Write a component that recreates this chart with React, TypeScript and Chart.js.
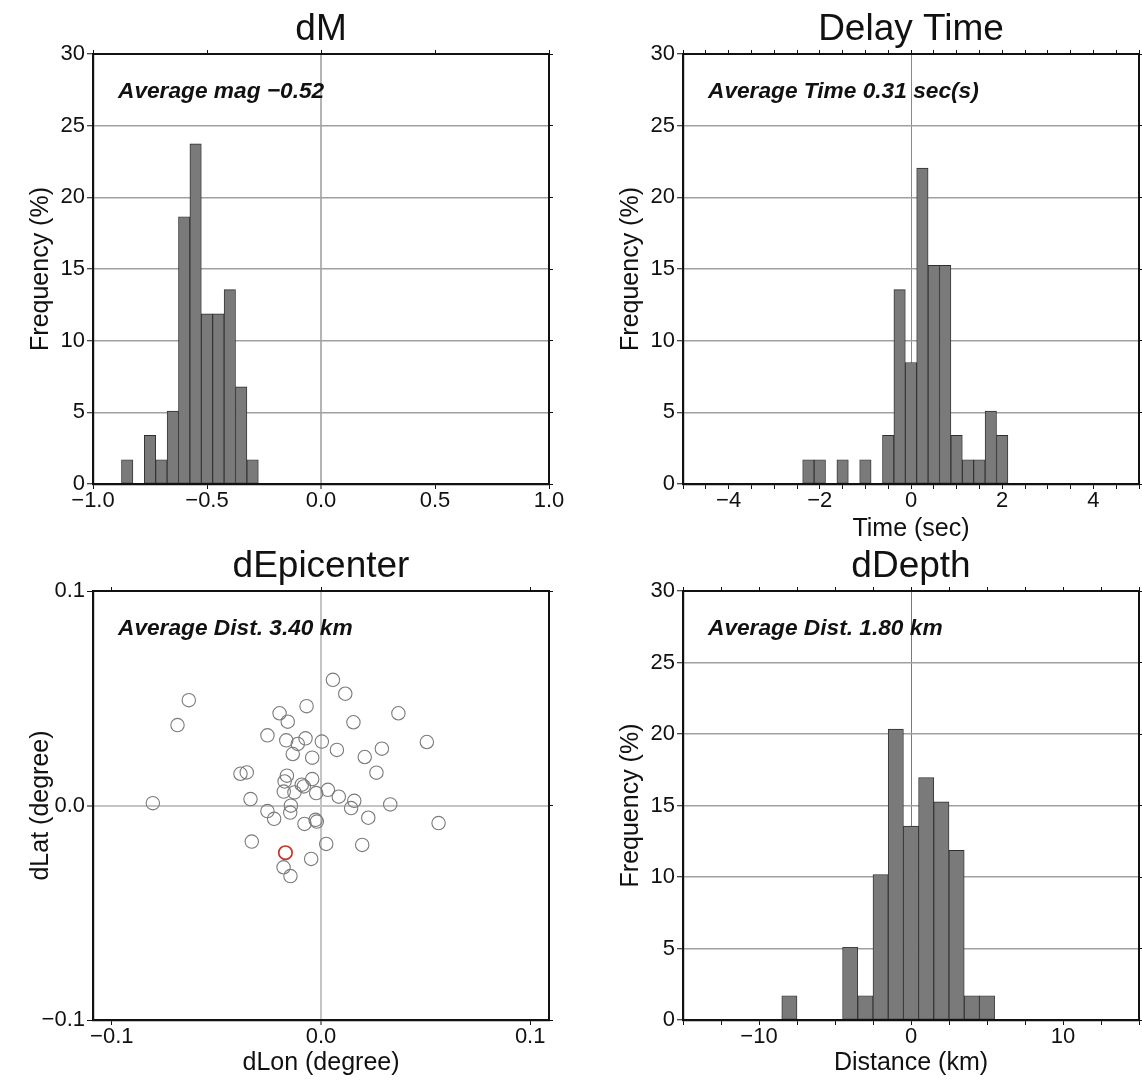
import React, { useEffect, useRef } from 'react';
import { Chart, registerables } from 'chart.js';

Chart.register(...registerables);

const FONT = '"Liberation Sans", Arial, Helvetica, sans-serif';

// ---------------- Data ----------------
const freqTitle = 'Frequency (%)';
const freqTickMarks = [0, 5, 10, 15, 20, 25, 30];
const freqTickLabels = ['0', '5', '10', '15', '20', '25', '30'];

// dM
const dmTitle = 'dM';
const dmNote = 'Average mag −0.52';
const dmBinCenters = [-0.85, -0.8, -0.75, -0.7, -0.65, -0.6, -0.55, -0.5, -0.45, -0.4, -0.35, -0.3];
const dmCounts = [1, 0, 2, 1, 3, 11, 14, 7, 7, 8, 4, 1];
const dmTickMarks = [-1, -0.5, 0, 0.5, 1];
const dmTickLabels = ['−1.0', '−0.5', '0.0', '0.5', '1.0'];

// Delay Time
const delayTitle = 'Delay Time';
const delayNote = 'Average Time 0.31 sec(s)';
const delayXTitle = 'Time (sec)';
const delayBinCenters = [-2.25, -2, -1.75, -1.5, -1.25, -1, -0.75, -0.5, -0.25, 0, 0.25, 0.5, 0.75, 1, 1.25, 1.5, 1.75, 2];
const delayCounts = [1, 1, 0, 1, 0, 1, 0, 2, 8, 5, 13, 9, 9, 2, 1, 1, 3, 2];
const delayTickMarks = [-5, -4.5, -4, -3.5, -3, -2.5, -2, -1.5, -1, -0.5, 0, 0.5, 1, 1.5, 2, 2.5, 3, 3.5, 4, 4.5, 5];
const delayLabelValues = [-4, -2, 0, 2, 4];
const delayTickLabels = ['−4', '−2', '0', '2', '4'];

// dEpicenter
const epiTitle = 'dEpicenter';
const epiNote = 'Average Dist. 3.40 km';
const epiXTitle = 'dLon (degree)';
const epiYTitle = 'dLat (degree)';
const epiLon = [-0.0632, -0.0686, 0.0057, 0.0116, -0.0069, -0.0198, -0.0159, 0.037, 0.0155, -0.0256, -0.0166, -0.0074, -0.0111, 0.0004, 0.0076, -0.0135, -0.0042, 0.0291, 0.0209, 0.0506, 0.0265, -0.0385, -0.0355, -0.0163, -0.0174, -0.0042, -0.0092, -0.0082, -0.0178, -0.0127, -0.0023, 0.0033, 0.0085, -0.0337, 0.0159, 0.0144, 0.0331, -0.0144, -0.0256, -0.0224, -0.0147, -0.0079, -0.0026, -0.002, 0.0226, 0.0562, -0.0804, -0.0331, -0.0179, -0.0146, -0.0047, 0.0025, 0.0197];
const epiLat = [0.0491, 0.0375, 0.0586, 0.0521, 0.0463, 0.043, 0.0391, 0.043, 0.0388, 0.0327, 0.0304, 0.0313, 0.0287, 0.0298, 0.0259, 0.024, 0.0223, 0.0265, 0.0226, 0.0296, 0.0153, 0.0148, 0.0154, 0.0139, 0.0112, 0.0123, 0.0097, 0.0089, 0.0065, 0.0061, 0.0058, 0.0073, 0.0041, 0.003, 0.0022, -0.0012, 0.0005, -0.0001, -0.0026, -0.0062, -0.0033, -0.0086, -0.0067, -0.0075, -0.0057, -0.0082, 0.0011, -0.0168, -0.0288, -0.0329, -0.0249, -0.0179, -0.0184];
const epiHighlightLon = [-0.017];
const epiHighlightLat = [-0.022];
const epiXRange = [-0.109, 0.109];
const epiYRange = [-0.1, 0.1];
const epiTickMarks = [-0.1, 0, 0.1];
const epiTickLabels = ['−0.1', '0.0', '0.1'];

// dDepth
const depthTitle = 'dDepth';
const depthNote = 'Average Dist. 1.80 km';
const depthXTitle = 'Distance (km)';
const depthBinCenters = [-8, -7, -6, -5, -4, -3, -2, -1, 0, 1, 2, 3, 4, 5];
const depthCounts = [1, 0, 0, 0, 3, 1, 6, 12, 8, 10, 9, 7, 1, 1];
const depthTickMarks = [-15, -12.5, -10, -7.5, -5, -2.5, 0, 2.5, 5, 7.5, 10, 12.5, 15];
const depthLabelValues = [-10, 0, 10];
const depthTickLabels = ['−10', '0', '10'];

// ---------------- Styling / layout ----------------
const INK = '#111111';
const CLEAR = 'rgba(0,0,0,0)';
const CANVAS_W = 642;
const CANVAS_H = 544;
const AXIS_W = 93;
const PLOT_TOP = 54;
const TITLE_PAD_TOP = 11.5;
const TITLE_SIZE = 37;
const TICK_FONT = { family: FONT, size: 22, lineHeight: 1 };
const AXIS_FONT = { family: FONT, size: 25, lineHeight: 1 };

const near = (a: number, b: number) => Math.abs(a - b) < 1e-9;

function labeler(vals: number[], texts: string[]) {
  return (value: number) => {
    const i = vals.findIndex((v) => near(v, value));
    return i >= 0 ? texts[i] : '';
  };
}

function fixTicks(vals: number[]) {
  return (scale: any) => {
    scale.ticks = vals.map((v) => ({ value: v }));
  };
}

function notePlugin(text: string) {
  return {
    id: 'note',
    afterDraw(chart: any) {
      const { ctx, chartArea } = chart;
      ctx.save();
      ctx.font = `italic bold 22.7px ${FONT}`;
      ctx.fillStyle = INK;
      ctx.textBaseline = 'alphabetic';
      ctx.textAlign = 'left';
      ctx.fillText(text, chartArea.left + 25, chartArea.top + 44);
      ctx.restore();
    },
  };
}

interface AxisSpec {
  min: number;
  max: number;
  marks: number[];
  labelVals: number[];
  labels: string[];
  title?: string;
}

function buildOptions(o: {
  title: string;
  x: AxisSpec;
  y: AxisSpec;
  xHeight: number;
  xTitlePad: number;
  zeroX?: [string, number];
  zeroY?: [string, number];
  hGrid?: [string, number];
}) {
  const isZero = (c: any) => c && c.tick && near(c.tick.value, 0);
  const topH = PLOT_TOP - (TITLE_PAD_TOP + TITLE_SIZE);
  return {
    responsive: false,
    maintainAspectRatio: false,
    animation: false,
    events: [],
    layout: { padding: 0 },
    plugins: {
      legend: { display: false },
      tooltip: { enabled: false },
      title: {
        display: true,
        text: o.title,
        color: INK,
        font: { family: FONT, size: TITLE_SIZE, weight: 'normal', lineHeight: 1 },
        padding: { top: TITLE_PAD_TOP, bottom: 0 },
      },
    },
    scales: {
      x: {
        type: 'linear',
        position: 'bottom',
        min: o.x.min,
        max: o.x.max,
        offset: false,
        afterBuildTicks: fixTicks(o.x.marks),
        afterFit: (s: any) => {
          s.height = o.xHeight;
        },
        ticks: {
          callback: labeler(o.x.labelVals, o.x.labels),
          font: TICK_FONT,
          color: INK,
          padding: 1,
          autoSkip: false,
          maxRotation: 0,
          minRotation: 0,
        },
        grid: {
          offset: false,
          drawOnChartArea: true,
          drawTicks: true,
          tickLength: 5,
          tickColor: INK,
          tickWidth: 1,
          color: (c: any) => (o.zeroX && isZero(c) ? o.zeroX[0] : CLEAR),
          lineWidth: (c: any) => (o.zeroX && isZero(c) ? o.zeroX[1] : 1),
        },
        border: { display: true, color: INK, width: 2.2, z: 1 },
        title: o.x.title
          ? { display: true, text: o.x.title, color: INK, font: AXIS_FONT, padding: { top: 0, bottom: o.xTitlePad } }
          : { display: false },
      },
      x2: {
        type: 'linear',
        position: 'top',
        min: o.x.min,
        max: o.x.max,
        offset: false,
        afterBuildTicks: fixTicks(o.x.marks),
        afterFit: (s: any) => {
          s.height = topH;
        },
        ticks: { display: false },
        grid: { offset: false, drawOnChartArea: false, drawTicks: true, tickLength: 4, tickColor: INK, tickWidth: 1 },
        border: { display: true, color: INK, width: 2, z: 1 },
      },
      y: {
        type: 'linear',
        position: 'left',
        min: o.y.min,
        max: o.y.max,
        afterBuildTicks: fixTicks(o.y.marks),
        afterFit: (s: any) => {
          s.width = AXIS_W;
        },
        ticks: {
          callback: labeler(o.y.labelVals, o.y.labels),
          font: TICK_FONT,
          color: INK,
          padding: 2,
          autoSkip: false,
        },
        grid: {
          drawOnChartArea: true,
          drawTicks: true,
          tickLength: 6,
          tickColor: INK,
          tickWidth: 1,
          color: (c: any) => {
            if (!c || !c.tick) return CLEAR;
            const v = c.tick.value;
            if (near(v, o.y.min) || near(v, o.y.max)) return CLEAR;
            if (o.zeroY && near(v, 0)) return o.zeroY[0];
            if (o.hGrid) return o.hGrid[0];
            return CLEAR;
          },
          lineWidth: (c: any) => {
            if (o.zeroY && isZero(c)) return o.zeroY[1];
            if (o.hGrid) return o.hGrid[1];
            return 1;
          },
        },
        border: { display: true, color: INK, width: 2.2, z: 1 },
        title: {
          display: true,
          text: o.y.title,
          color: INK,
          font: AXIS_FONT,
          padding: { top: 29, bottom: 0 },
        },
      },
      y2: {
        type: 'linear',
        position: 'right',
        min: o.y.min,
        max: o.y.max,
        afterBuildTicks: fixTicks(o.y.marks),
        afterFit: (s: any) => {
          s.width = AXIS_W;
        },
        ticks: { display: false },
        grid: { drawOnChartArea: false, drawTicks: true, tickLength: 4, tickColor: INK, tickWidth: 1 },
        border: { display: true, color: INK, width: 2, z: 1 },
      },
    },
  };
}

function histPoints(centers: number[], counts: number[]) {
  const total = counts.reduce((a, b) => a + b, 0);
  return centers
    .map((c, i) => ({ x: c, y: (counts[i] / total) * 100 }))
    .filter((p) => p.y > 0);
}

function histDataset(centers: number[], counts: number[]) {
  return {
    type: 'bar',
    data: histPoints(centers, counts),
    backgroundColor: '#7a7a7a',
    borderColor: '#2e2e2e',
    borderWidth: 0.9,
    borderSkipped: false,
    barPercentage: 1,
    categoryPercentage: 1,
  };
}

const freqAxis: AxisSpec = {
  min: 0,
  max: 30,
  marks: freqTickMarks,
  labelVals: freqTickMarks,
  labels: freqTickLabels,
  title: freqTitle,
};

function dmConfig() {
  return {
    type: 'bar',
    data: { datasets: [histDataset(dmBinCenters, dmCounts)] },
    options: buildOptions({
      title: dmTitle,
      x: { min: -1, max: 1, marks: dmTickMarks, labelVals: dmTickMarks, labels: dmTickLabels },
      y: freqAxis,
      xHeight: CANVAS_H - 484,
      xTitlePad: 2,
      zeroX: ['#b4b4b4', 2],
      hGrid: ['#a0a0a0', 1.5],
    }),
    plugins: [notePlugin(dmNote)],
  };
}

function delayConfig() {
  return {
    type: 'bar',
    data: { datasets: [histDataset(delayBinCenters, delayCounts)] },
    options: buildOptions({
      title: delayTitle,
      x: { min: -5, max: 5, marks: delayTickMarks, labelVals: delayLabelValues, labels: delayTickLabels, title: delayXTitle },
      y: freqAxis,
      xHeight: CANVAS_H - 484,
      xTitlePad: 2,
      zeroX: ['#8a8a8a', 1],
      hGrid: ['#a0a0a0', 1.5],
    }),
    plugins: [notePlugin(delayNote)],
  };
}

function epiConfig() {
  return {
    type: 'scatter',
    data: {
      datasets: [
        {
          data: epiLon.map((x, i) => ({ x, y: epiLat[i] })),
          pointStyle: 'circle',
          pointRadius: 6.7,
          pointBorderWidth: 1.1,
          pointBackgroundColor: CLEAR,
          pointBorderColor: '#7a7a7a',
          showLine: false,
        },
        {
          data: epiHighlightLon.map((x, i) => ({ x, y: epiHighlightLat[i] })),
          pointStyle: 'circle',
          pointRadius: 6.7,
          pointBorderWidth: 1.7,
          pointBackgroundColor: CLEAR,
          pointBorderColor: '#c8352b',
          showLine: false,
        },
      ],
    },
    options: buildOptions({
      title: epiTitle,
      x: { min: epiXRange[0], max: epiXRange[1], marks: epiTickMarks, labelVals: epiTickMarks, labels: epiTickLabels, title: epiXTitle },
      y: { min: epiYRange[0], max: epiYRange[1], marks: epiTickMarks, labelVals: epiTickMarks, labels: epiTickLabels, title: epiYTitle },
      xHeight: CANVAS_H - 483,
      xTitlePad: 5,
      zeroX: ['#c4c4c4', 2],
      zeroY: ['#c4c4c4', 2],
    }),
    plugins: [notePlugin(epiNote)],
  };
}

function depthConfig() {
  return {
    type: 'bar',
    data: { datasets: [histDataset(depthBinCenters, depthCounts)] },
    options: buildOptions({
      title: depthTitle,
      x: { min: -15, max: 15, marks: depthTickMarks, labelVals: depthLabelValues, labels: depthTickLabels, title: depthXTitle },
      y: freqAxis,
      xHeight: CANVAS_H - 483,
      xTitlePad: 5,
      zeroX: ['#7a7a7a', 1],
      hGrid: ['#a0a0a0', 1.5],
    }),
    plugins: [notePlugin(depthNote)],
  };
}

function Panel({ left, top, make }: { left: number; top: number; make: () => any }) {
  const ref = useRef<HTMLCanvasElement>(null);
  useEffect(() => {
    if (!ref.current) return;
    const chart = new Chart(ref.current, make());
    return () => chart.destroy();
  }, []);
  return (
    <canvas
      ref={ref}
      width={CANVAS_W}
      height={CANVAS_H}
      style={{ position: 'absolute', left, top, width: CANVAS_W, height: CANVAS_H }}
    />
  );
}

export default function App() {
  return (
    <div
      style={{
        position: 'absolute',
        left: 0,
        top: 0,
        width: 1142,
        height: 1081,
        overflow: 'hidden',
        background: '#ffffff',
      }}
    >
      <Panel left={0} top={0} make={dmConfig} />
      <Panel left={590} top={0} make={delayConfig} />
      <Panel left={0} top={537} make={epiConfig} />
      <Panel left={590} top={537} make={depthConfig} />
    </div>
  );
}
